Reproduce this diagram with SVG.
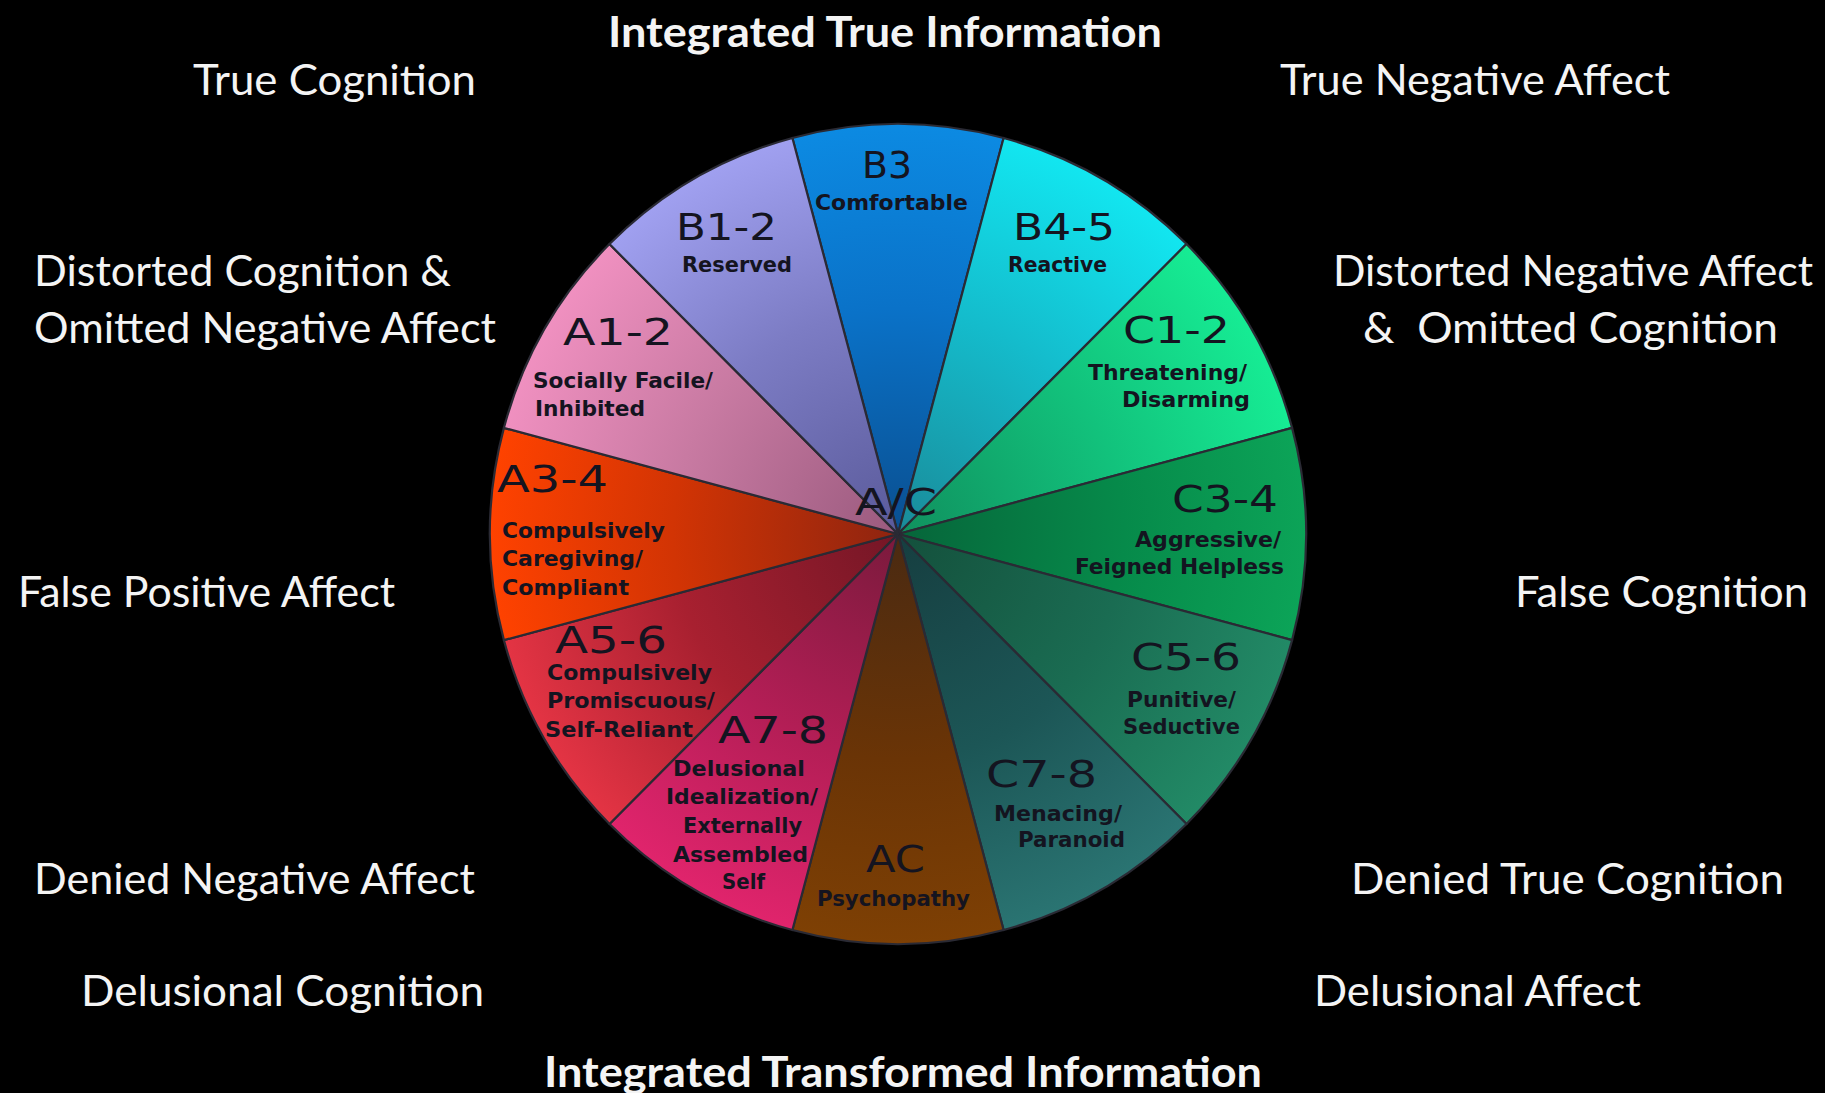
<svg xmlns="http://www.w3.org/2000/svg" width="1825" height="1093" viewBox="0 0 1825 1093">
<style>
.out{font-family:Lato,"Open Sans","Liberation Sans",sans-serif;font-size:42px;fill:#f4f4f4}
.ttl{font-family:Lato,"Open Sans","Liberation Sans",sans-serif;font-size:42px;font-weight:bold;fill:#f4f4f4}
.hd{font-family:"DejaVu Sans","Liberation Sans",sans-serif;font-size:38px;fill:#141420}
.sub{font-family:"DejaVu Sans Condensed","DejaVu Sans","Liberation Sans",sans-serif;font-size:22px;font-weight:bold;fill:#141420}
.sl{stroke:#2a2a34;stroke-width:2.2;stroke-linejoin:round}
</style>
<defs>
<radialGradient id="gB3" gradientUnits="userSpaceOnUse" cx="898" cy="534" r="410"><stop offset="0" stop-color="#0a4f90"/><stop offset="0.55" stop-color="#0a72c8"/><stop offset="1" stop-color="#0c8ae2"/></radialGradient>
<radialGradient id="gB45" gradientUnits="userSpaceOnUse" cx="898" cy="534" r="410"><stop offset="0" stop-color="#1a8a98"/><stop offset="0.55" stop-color="#14bccc"/><stop offset="1" stop-color="#12e6f0"/></radialGradient>
<radialGradient id="gC12" gradientUnits="userSpaceOnUse" cx="898" cy="534" r="410"><stop offset="0" stop-color="#10905e"/><stop offset="0.55" stop-color="#12c27c"/><stop offset="1" stop-color="#16ec94"/></radialGradient>
<radialGradient id="gC34" gradientUnits="userSpaceOnUse" cx="898" cy="534" r="410"><stop offset="0" stop-color="#06653a"/><stop offset="0.55" stop-color="#068a4a"/><stop offset="1" stop-color="#0ca458"/></radialGradient>
<radialGradient id="gC56" gradientUnits="userSpaceOnUse" cx="898" cy="534" r="410"><stop offset="0" stop-color="#14503c"/><stop offset="0.55" stop-color="#1a6c52"/><stop offset="1" stop-color="#228a66"/></radialGradient>
<radialGradient id="gC78" gradientUnits="userSpaceOnUse" cx="898" cy="534" r="410"><stop offset="0" stop-color="#163e40"/><stop offset="0.55" stop-color="#1c5656"/><stop offset="1" stop-color="#2a7472"/></radialGradient>
<radialGradient id="gAC" gradientUnits="userSpaceOnUse" cx="898" cy="534" r="410"><stop offset="0" stop-color="#4a2a12"/><stop offset="0.55" stop-color="#6a3406"/><stop offset="1" stop-color="#7e4004"/></radialGradient>
<radialGradient id="gA78" gradientUnits="userSpaceOnUse" cx="898" cy="534" r="410"><stop offset="0" stop-color="#7a1a3c"/><stop offset="0.55" stop-color="#b41e56"/><stop offset="1" stop-color="#e0246c"/></radialGradient>
<radialGradient id="gA56" gradientUnits="userSpaceOnUse" cx="898" cy="534" r="410"><stop offset="0" stop-color="#741626"/><stop offset="0.55" stop-color="#a82030"/><stop offset="1" stop-color="#e43444"/></radialGradient>
<radialGradient id="gA34" gradientUnits="userSpaceOnUse" cx="898" cy="534" r="410"><stop offset="0" stop-color="#8e2410"/><stop offset="0.55" stop-color="#d23404"/><stop offset="1" stop-color="#ff4200"/></radialGradient>
<radialGradient id="gA12" gradientUnits="userSpaceOnUse" cx="898" cy="534" r="410"><stop offset="0" stop-color="#9a5a7e"/><stop offset="0.55" stop-color="#c87aa2"/><stop offset="1" stop-color="#f090c0"/></radialGradient>
<radialGradient id="gB12" gradientUnits="userSpaceOnUse" cx="898" cy="534" r="410"><stop offset="0" stop-color="#5a5a9a"/><stop offset="0.55" stop-color="#7c7cc4"/><stop offset="1" stop-color="#a0a0f0"/></radialGradient>
</defs>
<rect x="0" y="0" width="1825" height="1093" fill="#000"/>

<g id="slices">
<g id="B3"><path class="sl" fill="url(#gB3)" d="M898,534 L792.4,137.97 A408,410 0 0 1 1003.6,137.97 Z"/>
<text class="hd" x="862" y="178" textLength="50" lengthAdjust="spacingAndGlyphs">B3</text>
<text class="sub" x="815" y="210" textLength="153" lengthAdjust="spacingAndGlyphs">Comfortable</text></g>

<g id="B4-5"><path class="sl" fill="url(#gB45)" d="M898,534 L1003.6,137.97 A408,410 0 0 1 1186.5,244.09 Z"/>
<text class="hd" x="1013" y="240" textLength="102" lengthAdjust="spacingAndGlyphs">B4-5</text>
<text class="sub" x="1008" y="272" textLength="99" lengthAdjust="spacingAndGlyphs">Reactive</text></g>

<g id="C1-2"><path class="sl" fill="url(#gC12)" d="M898,534 L1186.5,244.09 A408,410 0 0 1 1292.1,427.88 Z"/>
<text class="hd" x="1123" y="343" textLength="107" lengthAdjust="spacingAndGlyphs">C1-2</text>
<text class="sub" x="1088" y="380" textLength="159" lengthAdjust="spacingAndGlyphs">Threatening/</text>
<text class="sub" x="1122" y="407" textLength="128" lengthAdjust="spacingAndGlyphs">Disarming</text></g>

<g id="C3-4"><path class="sl" fill="url(#gC34)" d="M898,534 L1292.1,427.88 A408,410 0 0 1 1292.1,640.12 Z"/>
<text class="hd" x="1172" y="512" textLength="106" lengthAdjust="spacingAndGlyphs">C3-4</text>
<text class="sub" x="1135" y="547" textLength="146" lengthAdjust="spacingAndGlyphs">Aggressive/</text>
<text class="sub" x="1075" y="574" textLength="209" lengthAdjust="spacingAndGlyphs">Feigned Helpless</text></g>

<g id="C5-6"><path class="sl" fill="url(#gC56)" d="M898,534 L1292.1,640.12 A408,410 0 0 1 1186.5,823.91 Z"/>
<text class="hd" x="1131" y="670" textLength="110" lengthAdjust="spacingAndGlyphs">C5-6</text>
<text class="sub" x="1127" y="707" textLength="109" lengthAdjust="spacingAndGlyphs">Punitive/</text>
<text class="sub" x="1123" y="734" textLength="117" lengthAdjust="spacingAndGlyphs">Seductive</text></g>

<g id="C7-8"><path class="sl" fill="url(#gC78)" d="M898,534 L1186.5,823.91 A408,410 0 0 1 1003.6,930.03 Z"/>
<text class="hd" x="986" y="787" textLength="111" lengthAdjust="spacingAndGlyphs">C7-8</text>
<text class="sub" x="994" y="821" textLength="128" lengthAdjust="spacingAndGlyphs">Menacing/</text>
<text class="sub" x="1018" y="847" textLength="107" lengthAdjust="spacingAndGlyphs">Paranoid</text></g>

<g id="AC"><path class="sl" fill="url(#gAC)" d="M898,534 L1003.6,930.03 A408,410 0 0 1 792.4,930.03 Z"/>
<text class="hd" x="866" y="872" textLength="59" lengthAdjust="spacingAndGlyphs">AC</text>
<text class="sub" x="817" y="906" textLength="153" lengthAdjust="spacingAndGlyphs">Psychopathy</text></g>

<g id="A7-8"><path class="sl" fill="url(#gA78)" d="M898,534 L792.4,930.03 A408,410 0 0 1 609.5,823.91 Z"/>
<text class="hd" x="718" y="743" textLength="110" lengthAdjust="spacingAndGlyphs">A7-8</text>
<text class="sub" x="673" y="776" textLength="132" lengthAdjust="spacingAndGlyphs">Delusional</text>
<text class="sub" x="666" y="804" textLength="152" lengthAdjust="spacingAndGlyphs">Idealization/</text>
<text class="sub" x="683" y="833" textLength="119" lengthAdjust="spacingAndGlyphs">Externally</text>
<text class="sub" x="673" y="862" textLength="135" lengthAdjust="spacingAndGlyphs">Assembled</text>
<text class="sub" x="722" y="889" textLength="43" lengthAdjust="spacingAndGlyphs">Self</text></g>

<g id="A5-6"><path class="sl" fill="url(#gA56)" d="M898,534 L609.5,823.91 A408,410 0 0 1 503.9,640.12 Z"/>
<text class="hd" x="555" y="653" textLength="112" lengthAdjust="spacingAndGlyphs">A5-6</text>
<text class="sub" x="547" y="680" textLength="165" lengthAdjust="spacingAndGlyphs">Compulsively</text>
<text class="sub" x="547" y="708" textLength="168" lengthAdjust="spacingAndGlyphs">Promiscuous/</text>
<text class="sub" x="545" y="737" textLength="148" lengthAdjust="spacingAndGlyphs">Self-Reliant</text></g>

<g id="A3-4"><path class="sl" fill="url(#gA34)" d="M898,534 L503.9,640.12 A408,410 0 0 1 503.9,427.88 Z"/>
<text class="hd" x="497" y="492" textLength="111" lengthAdjust="spacingAndGlyphs">A3-4</text>
<text class="sub" x="502" y="538" textLength="163" lengthAdjust="spacingAndGlyphs">Compulsively</text>
<text class="sub" x="502" y="566" textLength="141" lengthAdjust="spacingAndGlyphs">Caregiving/</text>
<text class="sub" x="502" y="595" textLength="127" lengthAdjust="spacingAndGlyphs">Compliant</text></g>

<g id="A1-2"><path class="sl" fill="url(#gA12)" d="M898,534 L503.9,427.88 A408,410 0 0 1 609.5,244.09 Z"/>
<text class="hd" x="563" y="345" textLength="110" lengthAdjust="spacingAndGlyphs">A1-2</text>
<text class="sub" x="533" y="388" textLength="180" lengthAdjust="spacingAndGlyphs">Socially Facile/</text>
<text class="sub" x="535" y="416" textLength="110" lengthAdjust="spacingAndGlyphs">Inhibited</text></g>

<g id="B1-2"><path class="sl" fill="url(#gB12)" d="M898,534 L609.5,244.09 A408,410 0 0 1 792.4,137.97 Z"/>
<text class="hd" x="676" y="240" textLength="101" lengthAdjust="spacingAndGlyphs">B1-2</text>
<text class="sub" x="682" y="272" textLength="110" lengthAdjust="spacingAndGlyphs">Reserved</text></g>

<g id="center"><text class="hd" x="855" y="515" textLength="82" lengthAdjust="spacingAndGlyphs">A/C</text></g>
</g>

<g id="connectors"></g>

<g id="labels">
<text id="t-top" class="ttl" x="608" y="47" textLength="554" lengthAdjust="spacingAndGlyphs">Integrated True Information</text>
<text id="t-bottom" class="ttl" x="544" y="1087" textLength="718" lengthAdjust="spacingAndGlyphs">Integrated Transformed Information</text>
<text class="out" x="193" y="95" textLength="283" lengthAdjust="spacingAndGlyphs">True Cognition</text>
<text class="out" x="1280" y="95" textLength="390" lengthAdjust="spacingAndGlyphs">True Negative Affect</text>
<text class="out" x="34" y="286" textLength="417" lengthAdjust="spacingAndGlyphs">Distorted Cognition &amp;</text>
<text class="out" x="34" y="343" textLength="462" lengthAdjust="spacingAndGlyphs">Omitted Negative Affect</text>
<text class="out" x="1333" y="286" textLength="480" lengthAdjust="spacingAndGlyphs">Distorted Negative Affect</text>
<text class="out" x="1363" y="343" textLength="415" lengthAdjust="spacingAndGlyphs" xml:space="preserve">&amp;  Omitted Cognition</text>
<text class="out" x="18" y="607" textLength="377" lengthAdjust="spacingAndGlyphs">False Positive Affect</text>
<text class="out" x="1515" y="607" textLength="293" lengthAdjust="spacingAndGlyphs">False Cognition</text>
<text class="out" x="34" y="894" textLength="441" lengthAdjust="spacingAndGlyphs">Denied Negative Affect</text>
<text class="out" x="1351" y="894" textLength="433" lengthAdjust="spacingAndGlyphs">Denied True Cognition</text>
<text class="out" x="81" y="1006" textLength="403" lengthAdjust="spacingAndGlyphs">Delusional Cognition</text>
<text class="out" x="1314" y="1006" textLength="327" lengthAdjust="spacingAndGlyphs">Delusional Affect</text>
</g>
</svg>
